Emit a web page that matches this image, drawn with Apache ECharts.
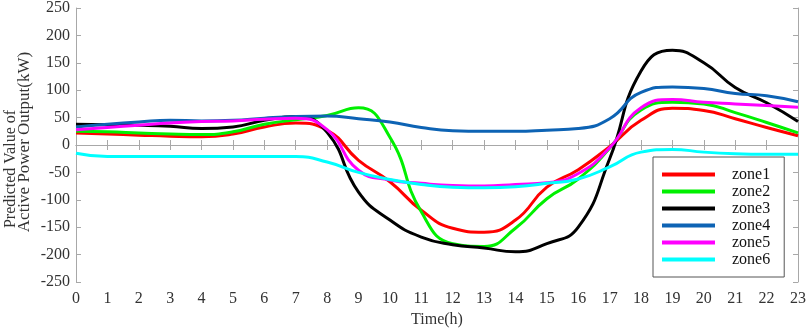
<!DOCTYPE html>
<html>
<head>
<meta charset="utf-8">
<script src="https://cdn.jsdelivr.net/npm/echarts@6/dist/echarts.min.js"></script>
<style>
  html, body { margin: 0; padding: 0; background: #fff; }
  #chart { width: 809px; height: 333px; }
</style>
</head>
<body>
<div id="chart"></div>
<script>
// hours on the x axis
const hours = ['0','1','2','3','4','5','6','7','8','9','10','11','12','13','14','15','16','17','18','19','20','21','22','23'];

// predicted active power output per zone (kW)
const zone1 = [22, 20, 18, 16, 15, 20, 33, 40, 27, -28, -67, -119, -152, -159, -137, -77, -45, -3, 45, 67, 63, 48, 32, 17];
const zone2 = [25, 24, 22, 20, 19, 24, 38, 46, 54, 68, 14, -122, -180, -185, -152, -98, -62, -6, 64, 78, 75, 59, 41, 22];
const zone3 = [38, 37, 36, 34, 30, 33, 45, 52, 23, -86, -137, -168, -182, -188, -195, -180, -150, -25, 135, 173, 150, 105, 77, 43];
const zone4 = [33, 38, 42, 45, 44, 45, 49, 52, 53, 48, 42, 32, 26, 25, 25, 27, 30, 48, 96, 106, 103, 94, 90, 79];
const zone5 = [28, 32, 36, 40, 43, 44, 47, 49, 28, -46, -64, -70, -74, -75, -72, -69, -52, -5, 68, 83, 78, 75, 72, 69];
const zone6 = [-15, -21, -21, -21, -21, -21, -21, -21, -31, -50, -63, -72, -77, -78, -76, -70, -62, -40, -13, -8, -13, -16, -17, -17];

const zoneNames = ['zone1', 'zone2', 'zone3', 'zone4', 'zone5', 'zone6'];
const zoneData = [zone1, zone2, zone3, zone4, zone5, zone6];
const zoneColors = ['#ff0000', '#00f000', '#000000', '#0d63b4', '#ff00ff', '#00ffff'];

const yTicks = { min: -250, max: 250, interval: 50 };

const FONT = '"Liberation Serif", "Times New Roman", serif';
const axisGray = '#a8a8a8';

const chart = echarts.init(document.getElementById('chart'));

const xBase = {
    type: 'category',
    data: hours,
    boundaryGap: false,
    axisLine: { lineStyle: { color: axisGray, width: 1 } },
    axisTick: { inside: true, length: 5, alignWithLabel: true, lineStyle: { color: axisGray } },
    splitLine: { show: false },
};
const yBase = {
    type: 'value',
    min: yTicks.min,
    max: yTicks.max,
    interval: yTicks.interval,
    axisLine: { show: true, lineStyle: { color: axisGray, width: 1 } },
    axisTick: { show: true, inside: true, length: 5, lineStyle: { color: axisGray } },
    splitLine: { show: false },
};

chart.setOption({
    animation: false,
    backgroundColor: '#fff',
    grid: { left: 76, right: 11, top: 7, bottom: 51 },
    // y axis title, two lines as in the original figure
    graphic: [
        {
            type: 'text',
            x: 11, y: 169, rotation: Math.PI / 2,
            style: { text: 'Predicted Value of', font: '16px ' + FONT, fill: '#333', align: 'center', verticalAlign: 'middle' },
        },
        {
            type: 'text',
            x: 25, y: 142, rotation: Math.PI / 2,
            style: { text: 'Active Power Output(kW)', font: '17px ' + FONT, fill: '#333', align: 'center', verticalAlign: 'middle' },
        },
    ],
    legend: {
        orient: 'vertical',
        left: 653,
        top: 157,
        padding: [9, 14, 9, 9],
        borderColor: '#555',
        borderWidth: 1,
        backgroundColor: '#fff',
        itemWidth: 53,
        itemHeight: 4,
        itemGap: 0,
        icon: 'rect',
        data: zoneNames,
        textStyle: { fontFamily: FONT, fontSize: 16, color: '#111', lineHeight: 17, padding: [0, 0, 0, 12] },
    },
    xAxis: [
        Object.assign({}, xBase, {
            position: 'bottom',
            name: 'Time(h)',
            nameLocation: 'middle',
            nameGap: 24,
            nameTextStyle: { fontFamily: FONT, fontSize: 16, color: '#333' },
            axisLabel: { fontFamily: FONT, fontSize: 16, color: '#333', margin: 9 },
        }),
        Object.assign({}, xBase, { position: 'top', axisLabel: { show: false } }),
    ],
    yAxis: [
        Object.assign({}, yBase, {
            position: 'left',
            axisLabel: { fontFamily: FONT, fontSize: 16, color: '#333', margin: 6 },
        }),
        Object.assign({}, yBase, { position: 'right', axisLabel: { show: false } }),
    ],
    series: zoneNames.map((name, i) => ({
        name: name,
        type: 'line',
        data: zoneData[i],
        smooth: 0.5,
        showSymbol: false,
        symbol: 'none',
        color: zoneColors[i],
        lineStyle: { color: zoneColors[i], width: 3 },
    })),
});
</script>
</body>
</html>
